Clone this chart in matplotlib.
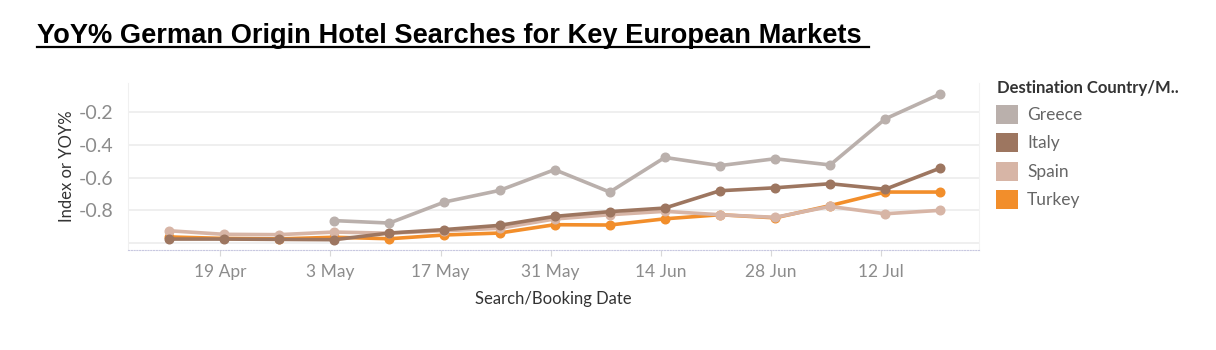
import numpy as np
import pandas as pd
import matplotlib
matplotlib.use('Agg')
import matplotlib.pyplot as plt
import matplotlib.dates as mdates
from matplotlib.patches import Patch
from matplotlib.lines import Line2D

# weekly points, 12 Apr .. 19 Jul 2020 (Tableau puts the mark mid-day)
dates = pd.date_range('2020-04-12 12:00', periods=15, freq='7D')
greece = [np.nan, np.nan, np.nan, -0.863, -0.878, -0.749, -0.678, -0.551,
          -0.688, -0.476, -0.526, -0.484, -0.522, -0.240, -0.087]
italy = [-0.976, -0.976, -0.978, -0.980, -0.939, -0.918, -0.892, -0.837,
         -0.808, -0.786, -0.680, -0.662, -0.637, -0.671, -0.541]
spain = [-0.925, -0.947, -0.949, -0.933, -0.940, -0.925, -0.910, -0.853,
         -0.827, -0.806, -0.827, -0.843, -0.776, -0.821, -0.800]
turkey = [-0.963, -0.972, -0.975, -0.965, -0.974, -0.951, -0.939, -0.888,
          -0.890, -0.852, -0.827, -0.846, -0.771, -0.688, -0.688]

names = ['Greece', 'Italy', 'Spain', 'Turkey']
colors = ['#bab0ac', '#9d7660', '#d7b5a6', '#f28e2b']
series = [greece, italy, spain, turkey]
zorders = [5, 4, 3, 2]

xticks = pd.to_datetime(['2020-04-19', '2020-05-03', '2020-05-17', '2020-05-31',
                         '2020-06-14', '2020-06-28', '2020-07-12'])
yticks = [-0.8, -0.6, -0.4, -0.2]

fig = plt.figure(figsize=(12.16, 3.5), dpi=100)
ax = fig.add_axes([127.7/1216, 1 - 250/350, (979 - 127.7)/1216, (250 - 83)/350])

for name, c, s, z in zip(names, colors, series, zorders):
    ax.plot(dates, s, color=c, lw=2.6, marker='o', ms=6.2, zorder=z, label=name)

ax.set_xlim(pd.Timestamp('2020-04-07 06:00'), pd.Timestamp('2020-07-24 10:00'))
ax.set_ylim(-1.043, -0.02)
ax.set_yticks(yticks)
ax.set_yticklabels([f'{v:.1f}' for v in yticks])
ax.set_xticks(xticks)
ax.xaxis.set_major_formatter(mdates.DateFormatter('%-d %b'))

for v in yticks + [-1.0]:
    ax.axhline(v, color='#ececec', lw=1.2, zorder=0)

ax.spines['top'].set_visible(False)
ax.spines['left'].set_color('#f0f0f0')
ax.spines['right'].set_color('#f3f3f3')
ax.spines['bottom'].set_color('#c8c8e0')
ax.spines['bottom'].set_linestyle((0, (1, 1.5)))

tick_font = 'Lato'
ax.tick_params(axis='y', length=0, pad=10, labelsize=14, labelcolor='#8c8c8c')
ax.tick_params(axis='x', length=4, color='#d8d8d8', pad=6, labelsize=12.5, labelcolor='#8c8c8c')
for lab in ax.get_xticklabels() + ax.get_yticklabels():
    lab.set_fontfamily(tick_font)

ax.set_ylabel('Index or YOY%', fontsize=12, color='#333333', family=tick_font, labelpad=3)
ax.set_xlabel('Search/Booking Date', fontsize=12, color='#333333', family=tick_font, labelpad=8)

title = fig.text(37/1216, 1 - 43/350, 'YoY% German Origin Hotel Searches for Key European Markets ',
                 fontsize=19.6, fontweight='bold', family='Liberation Sans', color='black')
fig.canvas.draw()
bb = title.get_window_extent(fig.canvas.get_renderer())
fig.add_artist(Line2D([bb.x0 / 1216, bb.x1 / 1216], [1 - 47/350, 1 - 47/350],
                      color='black', lw=1.6, transform=fig.transFigure))

# legend title written separately so the rows can sit where Tableau puts them
fig.text(997/1216, 1 - 88/350, 'Destination Country/M..', fontsize=12, fontweight='bold',
         family=tick_font, color='#333333', va='center')
handles = [Patch(facecolor=c, edgecolor='none') for c in colors]
leg = fig.legend(handles, names, loc='upper left', bbox_to_anchor=(994/1216, 1 - 103/350),
                 frameon=False, prop={'family': tick_font, 'size': 12.5},
                 handlelength=1.3, handleheight=1.3, handletextpad=0.5,
                 labelspacing=0.55, borderaxespad=0, borderpad=0.1)
for t in leg.get_texts():
    t.set_color('#666666')

fig.savefig('out.png', dpi=100)
